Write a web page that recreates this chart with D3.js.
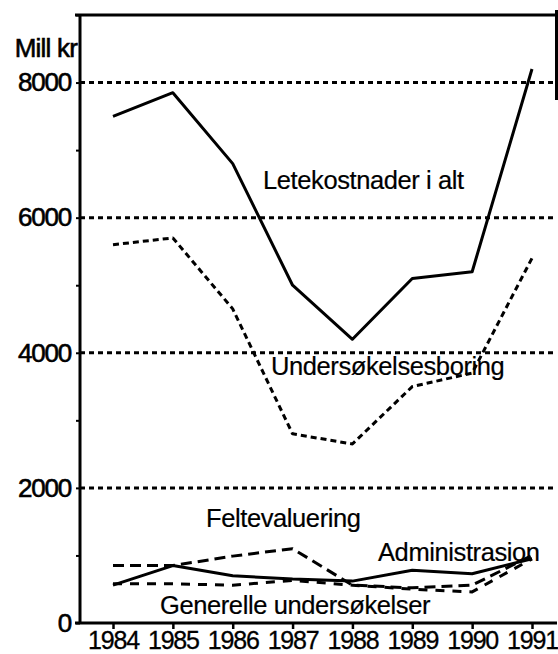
<!DOCTYPE html>
<html>
<head>
<meta charset="utf-8">
<script src="https://cdn.jsdelivr.net/npm/d3@7"></script>
<style>
	body { margin: 0; background: #fff; }
	svg { display: block; }
	text { font-family: "Liberation Sans", Arial, Helvetica, sans-serif; fill: #000; }
</style>
</head>
<body>
<script>
// years on the x axis
var years = [1984, 1985, 1986, 1987, 1988, 1989, 1990, 1991];

// series values, mill kr
var letekostnader = [7500, 7850, 6800, 5000, 4200, 5100, 5200, 8200];
var undersokelsesboring = [5600, 5700, 4650, 2800, 2650, 3500, 3700, 5400];
var feltevaluering = [850, 850, 990, 1100, 560, 520, 560, 1000];
var administrasjon = [560, 850, 700, 650, 620, 780, 730, 950];
var generelle = [580, 580, 560, 630, 560, 500, 460, 950];

// y axis ticks
var y_ticks = [0, 1000, 2000, 3000, 4000, 5000, 6000, 7000, 8000, 9000];
var y_labels = [0, 2000, 4000, 6000, 8000];
var grid_values = [2000, 4000, 6000, 8000];

var width = 558, height = 654;

var svg = d3.select("body").append("svg")
	.attr("width", width)
	.attr("height", height);

// set the ranges
var x = d3.scaleLinear().domain([1984, 1991]).range([113, 532]);
var y = d3.scaleLinear().domain([0, 9000]).range([623, 15]);

// dotted gridlines
svg.selectAll(".grid")
	.data(grid_values)
	.enter().append("line")
	.attr("class", "grid")
	.attr("x1", 80)
	.attr("x2", 557)
	.attr("y1", function(d) { return y(d); })
	.attr("y2", function(d) { return y(d); })
	.attr("stroke", "#000")
	.attr("stroke-width", 3)
	.attr("stroke-dasharray", "5,4");

// frame: top line, left axis, bottom axis, bit of right edge
svg.append("line").attr("x1", 75).attr("x2", 557).attr("y1", y(9000)).attr("y2", y(9000))
	.attr("stroke", "#000").attr("stroke-width", 3);
svg.append("line").attr("x1", 80).attr("x2", 80).attr("y1", y(9000) - 1).attr("y2", y(0))
	.attr("stroke", "#000").attr("stroke-width", 3);
svg.append("line").attr("x1", 75).attr("x2", 557).attr("y1", y(0)).attr("y2", y(0))
	.attr("stroke", "#000").attr("stroke-width", 3);
svg.append("line").attr("x1", 556.5).attr("x2", 556.5).attr("y1", 10).attr("y2", 100)
	.attr("stroke", "#000").attr("stroke-width", 3);

// x axis
var x_axis = svg.append("g")
	.attr("transform", "translate(0," + y(0) + ")")
	.call(d3.axisBottom(x).tickValues(years).tickFormat(d3.format("d")).tickSize(6).tickPadding(2));
x_axis.select(".domain").remove();
x_axis.selectAll(".tick line").attr("stroke", "#000").attr("stroke-width", 2.5);
x_axis.selectAll(".tick text")
	.attr("font-size", 25)
	.attr("letter-spacing", -1.2)
	.attr("fill", "#000")
	.attr("stroke", "#000")
	.attr("stroke-width", 0.3);

// y axis
var y_axis = svg.append("g")
	.attr("transform", "translate(80,0)")
	.call(d3.axisLeft(y).tickValues(y_ticks).tickSize(4).tickPadding(5)
		.tickFormat(function(d) { return y_labels.indexOf(d) >= 0 ? d : ""; }));
y_axis.select(".domain").remove();
y_axis.selectAll(".tick line").attr("stroke", "#000").attr("stroke-width", 2);
y_axis.selectAll(".tick text")
	.attr("font-size", 26)
	.attr("letter-spacing", -1.2)
	.attr("fill", "#000")
	.attr("stroke", "#000")
	.attr("stroke-width", 0.6);

// unit label
svg.append("text")
	.attr("x", 77)
	.attr("y", 57)
	.attr("text-anchor", "end")
	.attr("font-size", 26)
	.attr("letter-spacing", -0.8)
	.attr("stroke", "#000")
	.attr("stroke-width", 0.6)
	.text("Mill kr");

// define the line
var line = d3.line()
	.x(function(d, i) { return x(years[i]); })
	.y(function(d) { return y(d); });

var series = [
	{values: generelle, dash: "9,8"},
	{values: feltevaluering, dash: "11,6"},
	{values: administrasjon, dash: null},
	{values: undersokelsesboring, dash: "6,4"},
	{values: letekostnader, dash: null}
];

series.forEach(function(s) {
	svg.append("path")
		.datum(s.values)
		.attr("d", line)
		.attr("fill", "none")
		.attr("stroke", "#000")
		.attr("stroke-width", 3)
		.attr("stroke-linejoin", "round")
		.attr("stroke-dasharray", s.dash);
});

// series labels
var labels = [
	{text: "Letekostnader i alt", x: 263, y: 189},
	{text: "Undersøkelsesboring", x: 271, y: 375},
	{text: "Feltevaluering", x: 206, y: 527},
	{text: "Administrasion", x: 378, y: 561},
	{text: "Generelle undersøkelser", x: 160, y: 614}
];

svg.selectAll(".label")
	.data(labels)
	.enter().append("text")
	.attr("class", "label")
	.attr("x", function(d) { return d.x; })
	.attr("y", function(d) { return d.y; })
	.attr("font-size", 25.5)
	.attr("letter-spacing", -0.4)
	.attr("stroke", "#000")
	.attr("stroke-width", 0.2)
	.text(function(d) { return d.text; });
</script>
</body>
</html>
